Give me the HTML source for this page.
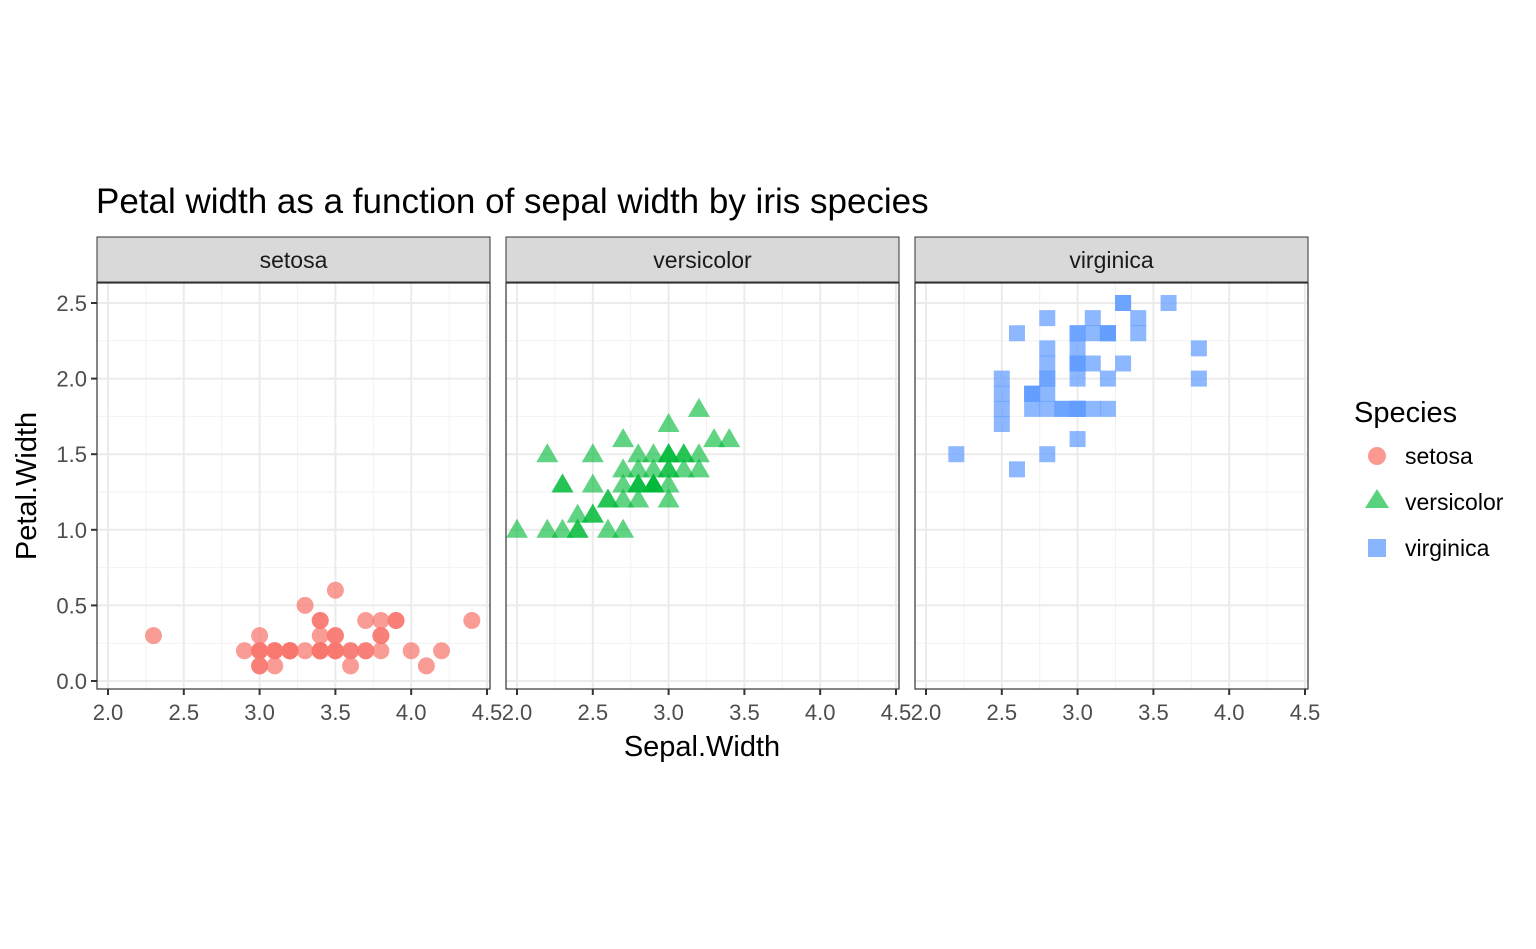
<!DOCTYPE html>
<html><head><meta charset="utf-8">
<style>
html,body{margin:0;padding:0;background:#fff;}
svg{display:block;font-family:"Liberation Sans",Arial,sans-serif;}
</style></head>
<body>
<svg id="chart" width="1536" height="949" viewBox="0 0 1536 949" xmlns="http://www.w3.org/2000/svg">
<rect width="1536" height="949" fill="#fff"/>
<text x="96" y="213" font-size="35" fill="#000">Petal width as a function of sepal width by iris species</text>
<text x="702" y="756" font-size="29" text-anchor="middle" fill="#000">Sepal.Width</text>
<text transform="translate(36,486) rotate(-90)" font-size="29" text-anchor="middle" fill="#000">Petal.Width</text>
<g id="panels"></g>
<g>
<text x="1354" y="422" font-size="29" fill="#000">Species</text>
<circle cx="1377" cy="456" r="9" fill="#F8766D" fill-opacity="0.75"/>
<text x="1405" y="464" font-size="23" fill="#000">setosa</text>
<polygon points="1377,489 1389,508 1365,508" fill="#00BA38" fill-opacity="0.65"/>
<text x="1405" y="510" font-size="23" fill="#000">versicolor</text>
<rect x="1368" y="539" width="18" height="18" fill="#619CFF" fill-opacity="0.75"/>
<text x="1405" y="556" font-size="23" fill="#000">virginica</text>
</g>
</svg>
<script>
const speciesNames = ["setosa","versicolor","virginica"];
const xTicks = [2.0,2.5,3.0,3.5,4.0,4.5];
const xTickLabels = ["2.0","2.5","3.0","3.5","4.0","4.5"];
const yTicks = [0.0,0.5,1.0,1.5,2.0,2.5];
const yTickLabels = ["0.0","0.5","1.0","1.5","2.0","2.5"];
const setosaSepal = [3.5,3.0,3.2,3.1,3.6,3.9,3.4,3.4,2.9,3.1,3.7,3.4,3.0,3.0,4.0,4.4,3.9,3.5,3.8,3.8,3.4,3.7,3.6,3.3,3.4,3.0,3.4,3.5,3.4,3.2,3.1,3.4,4.1,4.2,3.1,3.2,3.5,3.6,3.0,3.4,3.5,2.3,3.2,3.5,3.8,3.0,3.8,3.2,3.7,3.3];
const setosaPetal = [0.2,0.2,0.2,0.2,0.2,0.4,0.3,0.2,0.2,0.1,0.2,0.2,0.1,0.1,0.2,0.4,0.4,0.3,0.3,0.3,0.2,0.4,0.2,0.5,0.2,0.2,0.4,0.2,0.2,0.2,0.2,0.4,0.1,0.2,0.2,0.2,0.2,0.1,0.2,0.2,0.3,0.3,0.2,0.6,0.4,0.3,0.2,0.2,0.2,0.2];
const versiSepal = [3.2,3.2,3.1,2.3,2.8,2.8,3.3,2.4,2.9,2.7,2.0,3.0,2.2,2.9,2.9,3.1,3.0,2.7,2.2,2.5,3.2,2.8,2.5,2.8,2.9,3.0,2.8,3.0,2.9,2.6,2.4,2.4,2.7,2.7,3.0,3.4,3.1,2.3,3.0,2.5,2.6,3.0,2.6,2.3,2.7,3.0,2.9,2.9,2.5,2.8];
const versiPetal = [1.4,1.5,1.5,1.3,1.5,1.3,1.6,1.0,1.3,1.4,1.0,1.5,1.0,1.4,1.3,1.4,1.5,1.0,1.5,1.1,1.8,1.3,1.5,1.2,1.3,1.4,1.4,1.7,1.5,1.0,1.1,1.0,1.2,1.6,1.5,1.6,1.5,1.3,1.3,1.3,1.2,1.4,1.2,1.0,1.3,1.2,1.3,1.3,1.1,1.3];
const virgSepal = [3.3,2.7,3.0,2.9,3.0,3.0,2.5,2.9,2.5,3.6,3.2,2.7,3.0,2.5,2.8,3.2,3.0,3.8,2.6,2.2,3.2,2.8,2.8,2.7,3.3,3.2,2.8,3.0,2.8,3.0,2.8,3.8,2.8,2.8,2.6,3.0,3.4,3.1,3.0,3.1,3.1,3.1,2.7,3.2,3.3,3.0,2.5,3.0,3.4,3.0];
const virgPetal = [2.5,1.9,2.1,1.8,2.2,2.1,1.7,1.8,1.8,2.5,2.0,1.9,2.1,2.0,2.4,2.3,1.8,2.2,2.3,1.5,2.3,2.0,2.0,1.8,2.1,1.8,1.8,1.8,2.1,1.6,1.9,2.0,2.2,1.5,1.4,2.3,2.4,1.8,1.8,2.1,2.4,2.3,1.9,2.3,2.5,2.3,1.9,2.0,2.3,1.8];

const NS = "http://www.w3.org/2000/svg";
const panelLefts = [97,506,915], panelW = 393, panelTop = 283, panelBot = 689;
function xScale(p, v){ return panelLefts[p] + 11 + (v - 2.0) * 151.6; }
function yScale(v){ return 681 - v * 151.2; }
function mk(tag, attrs, parent){ const e = document.createElementNS(NS, tag); for (const k in attrs) e.setAttribute(k, attrs[k]); parent.appendChild(e); return e; }
const root = document.getElementById("panels");
const colors = ["#F8766D","#00BA38","#619CFF"];
const xs = [setosaSepal, versiSepal, virgSepal], ys = [setosaPetal, versiPetal, virgPetal];

for (let p = 0; p < 3; p++) {
  const L = panelLefts[p];
  const g = mk("g", {}, root);
  
  
  const s = mk("rect", {x:L, y:237, width:panelW, height:45, fill:"#d9d9d9", stroke:"#333", "stroke-width":1}, g);
  
  
  const st = mk("text", {x:L + panelW/2, y:268, "font-size":23, "text-anchor":"middle", fill:"#1a1a1a"}, g);
  st.textContent = speciesNames[p];
  
  
  for (let i = 0; i < xTicks.length - 1; i++) {
    const x = xScale(p, (xTicks[i] + xTicks[i+1]) / 2);
    mk("line", {x1:x, x2:x, y1:panelTop, y2:panelBot, stroke:"#f2f2f2", "stroke-width":1}, g);
  }
  for (let i = 0; i < yTicks.length - 1; i++) {
    const y = yScale((yTicks[i] + yTicks[i+1]) / 2);
    mk("line", {x1:L, x2:L+panelW, y1:y, y2:y, stroke:"#f2f2f2", "stroke-width":1}, g);
  }
  xTicks.forEach((t, i) => {
    const x = xScale(p, t);
    mk("line", {x1:x, x2:x, y1:panelTop, y2:panelBot, stroke:"#ebebeb", "stroke-width":2}, g);
    mk("line", {x1:x, x2:x, y1:panelBot, y2:panelBot+6, stroke:"#333", "stroke-width":2}, g);
    const tl = mk("text", {x:x, y:720, "font-size":22, "text-anchor":"middle", fill:"#4d4d4d"}, g);
    tl.textContent = xTickLabels[i];
    
    
  });
  yTicks.forEach((t, i) => {
    const y = yScale(t);
    mk("line", {x1:L, x2:L+panelW, y1:y, y2:y, stroke:"#ebebeb", "stroke-width":2}, g);
    if (p === 0) {
      mk("line", {x1:L-6, x2:L, y1:y, y2:y, stroke:"#333", "stroke-width":2}, g);
      const tl = mk("text", {x:L-10, y:y+8, "font-size":22, "text-anchor":"end", fill:"#4d4d4d"}, g);
      tl.textContent = yTickLabels[i];
      
      
    }
  });
  for (let i = 0; i < xs[p].length; i++) {
    const cx = xScale(p, xs[p][i]), cy = yScale(ys[p][i]);
    let el;
    if (p === 0) el = mk("circle", {cx:cx, cy:cy, r:8.5, fill:colors[0], "fill-opacity":0.72}, g);
    else if (p === 1) el = mk("polygon", {points:`${cx},${cy-11} ${cx+11},${cy+8} ${cx-11},${cy+8}`, fill:colors[1], "fill-opacity":0.62}, g);
    else el = mk("rect", {x:cx-8, y:cy-8, width:16, height:16, fill:colors[2], "fill-opacity":0.72}, g);
    
    
  }
  const b = mk("rect", {x:L, y:panelTop, width:panelW, height:panelBot-panelTop, fill:"none", stroke:"#333", "stroke-width":1.2}, g);
  
  
}
</script>
</body></html>
